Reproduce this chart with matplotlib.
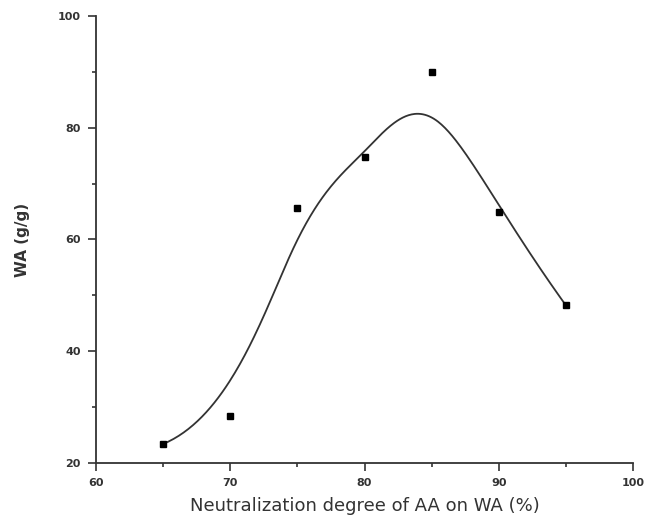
import numpy as np
import matplotlib.pyplot as plt
from matplotlib.ticker import MultipleLocator

# values
degree = np.array([65, 70, 75, 80, 85, 90, 95])
wa = np.array([23.4, 28.4, 65.6, 74.8, 90.0, 64.9, 48.2])


def bspline(ctrl_x, ctrl_y, k=3, num=300):
    # clamped uniform B-spline, data points used as control points
    n = len(ctrl_x)
    inner = np.arange(1, n - k)
    knots = np.concatenate([np.zeros(k + 1), inner, np.full(k + 1, n - k)])
    t = np.linspace(0, n - k, num)
    t[-1] -= 1e-9

    def basis(i, d, t):
        if d == 0:
            return ((knots[i] <= t) & (t < knots[i + 1])).astype(float)
        out = np.zeros_like(t)
        den1 = knots[i + d] - knots[i]
        den2 = knots[i + d + 1] - knots[i + 1]
        if den1 > 0:
            out += (t - knots[i]) / den1 * basis(i, d - 1, t)
        if den2 > 0:
            out += (knots[i + d + 1] - t) / den2 * basis(i + 1, d - 1, t)
        return out

    B = np.array([basis(i, k, t) for i in range(n)])
    return B.T @ ctrl_x, B.T @ ctrl_y


cx, cy = bspline(degree.astype(float), wa)

fig = plt.figure(figsize=(6.46, 5.18), dpi=100)
ax = fig.add_axes([0.1486, 0.1062, 0.8314, 0.8629])

ax.plot(cx, cy, color='#333333', lw=1.3)
ax.plot(degree, wa, 's', color='black', ms=5)

ax.set_xlim(60, 100)
ax.set_ylim(20, 100)
ax.xaxis.set_major_locator(MultipleLocator(10))
ax.xaxis.set_minor_locator(MultipleLocator(5))
ax.yaxis.set_major_locator(MultipleLocator(20))
ax.yaxis.set_minor_locator(MultipleLocator(10))

ax.spines['top'].set_visible(False)
ax.spines['right'].set_visible(False)
for s in ['left', 'bottom']:
    ax.spines[s].set_linewidth(1.3)
    ax.spines[s].set_color('#333333')

ax.tick_params(which='major', direction='out', length=6, width=1.2, pad=5,
               labelsize=8, colors='#333333')
ax.tick_params(which='minor', direction='out', length=3, width=1.2, colors='#333333')
for lab in ax.get_xticklabels() + ax.get_yticklabels():
    lab.set_fontweight('bold')

ax.set_xlabel('Neutralization degree of AA on WA (%)', fontsize=13, color='#333333', labelpad=6)
ax.set_ylabel('WA (g/g)', fontsize=11, fontweight='bold', color='#333333', labelpad=20)

fig.savefig('out.png', dpi=100)
